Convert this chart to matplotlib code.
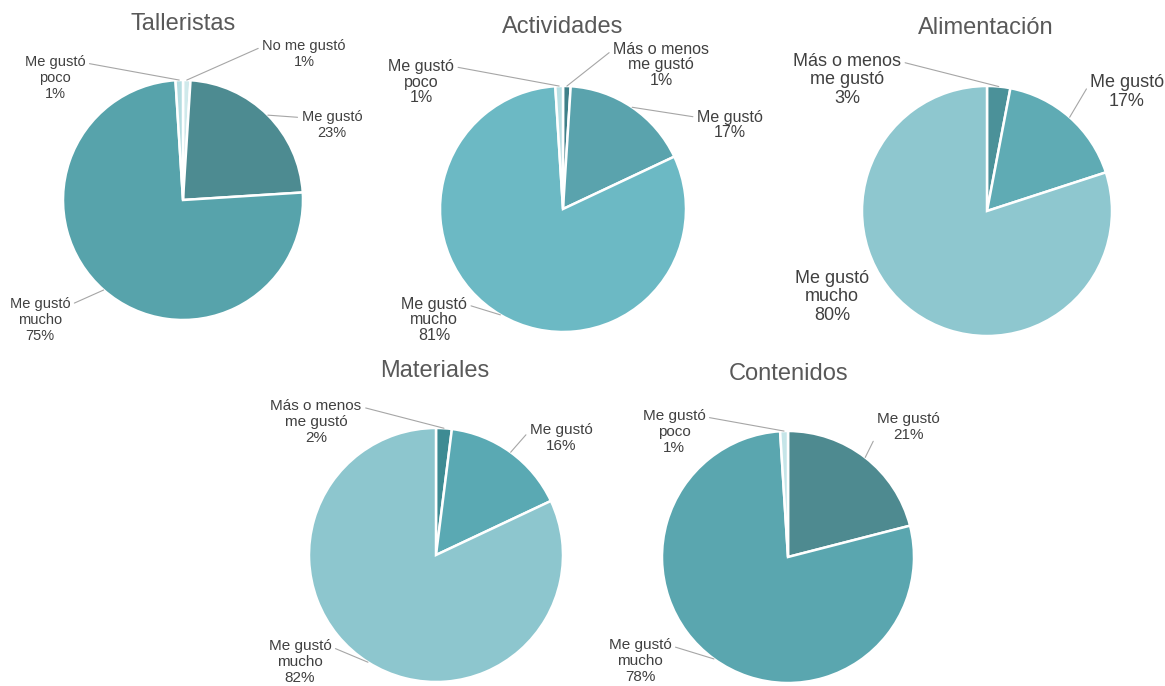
import numpy as np
import matplotlib
matplotlib.use("Agg")
import matplotlib.pyplot as plt

plt.rcParams['font.family'] = ['Liberation Sans', 'DejaVu Sans']

W, H = 1165, 686

# data: slices go clockwise from 12 o'clock
titles = ["Talleristas", "Actividades", "Alimentación", "Materiales", "Contenidos"]

talleristas_labels = ["No me gustó", "Me gustó", "Me gustó\nmucho", "Me gustó\npoco"]
talleristas_values = [1, 23, 75, 1]

actividades_labels = ["Más o menos\nme gustó", "Me gustó", "Me gustó\nmucho", "Me gustó\npoco"]
actividades_values = [1, 17, 81, 1]

alimentacion_labels = ["Más o menos\nme gustó", "Me gustó", "Me gustó\nmucho"]
alimentacion_values = [3, 17, 80]

materiales_labels = ["Más o menos\nme gustó", "Me gustó", "Me gustó\nmucho"]
materiales_values = [2, 16, 82]

contenidos_labels = ["Me gustó", "Me gustó\nmucho", "Me gustó\npoco"]
contenidos_values = [21, 78, 1]

all_labels = [talleristas_labels, actividades_labels, alimentacion_labels,
              materiales_labels, contenidos_labels]
all_values = [talleristas_values, actividades_values, alimentacion_values,
              materiales_values, contenidos_values]

colors = [
    ["#cfe9eb", "#4d8b91", "#57a3ab", "#b5dde1"],
    ["#3f8089", "#5aa3ad", "#6cb9c4", "#b9e0e4"],
    ["#4b9199", "#5fabb4", "#8ec7cf"],
    ["#3e8b93", "#5aa9b3", "#8dc6ce"],
    ["#4e8a90", "#5aa6af", "#c5e5e8"],
]

# layout in pixels: centre x, centre y, radius, title position, label font size
pies = [
    dict(cx=183, cy=200, r=120, title=(183, 24), fs=10.5, ls=1.15),
    dict(cx=563, cy=209, r=123, title=(563, 27), fs=11.5, ls=1.05),
    dict(cx=987, cy=211, r=125, title=(986, 28), fs=13, ls=1.15),
    dict(cx=436, cy=555, r=127, title=(435, 371), fs=11, ls=1.15),
    dict(cx=788, cy=557, r=126, title=(789, 374), fs=11, ls=1.15),
]

# label text centre in pixels (same order as slices)
label_pos = [
    [(304, 54), (332, 125), (40, 320), (55, 78)],
    [(661, 65), (730, 125), (434, 320), (421, 82)],
    [(847, 80), (1127, 92), (832, 297)],
    [(316, 422), (561, 438), (300, 662)],
    [(908, 427), (640, 661), (674, 432)],
]

# where the leader leaves the text: side ('L' = right end, 'R' = left end), line index
# None = no leader
leader = [
    [("R", 0), ("R", 0), ("L", 0), ("L", 0)],
    [("R", 0), ("R", 0), ("L", 0), ("L", 0)],
    [("L", 0), ("R", 0), None],
    [("L", 0), ("R", 0), ("L", 0)],
    [("R", 1), ("L", 0), ("L", 0)],
]


def fx(x):
    return x / W


def fy(y):
    return 1 - y / H


fig = plt.figure(figsize=(W / 100, H / 100), dpi=100)
fig.patch.set_facecolor("white")

for i in range(5):
    p = pies[i]
    r = p["r"]
    ax = fig.add_axes([fx(p["cx"] - r), fy(p["cy"] + r), 2 * r / W, 2 * r / H])
    wedges, _ = ax.pie(all_values[i], colors=colors[i], startangle=90,
                       counterclock=False, radius=1,
                       wedgeprops=dict(edgecolor="white", linewidth=1.8))
    ax.set_xlim(-1, 1)
    ax.set_ylim(-1, 1)
    ax.set_aspect("equal")
    ax.axis("off")

    fig.text(fx(p["title"][0]), fy(p["title"][1]), titles[i], ha="center",
             va="center", fontsize=17, color="#595959")

    for j, w in enumerate(wedges):
        ang = np.deg2rad((w.theta1 + w.theta2) / 2)
        x, y = np.cos(ang), np.sin(ang)
        tx, ty = label_pos[i][j]
        txt = all_labels[i][j] + "\n" + str(all_values[i][j]) + "%"
        n = txt.count("\n") + 1
        ld = leader[i][j]
        if ld is None:
            ax.text(fx(tx), fy(ty), txt, transform=fig.transFigure,
                    ha="center", va="center", fontsize=p["fs"],
                    color="#404040", linespacing=p["ls"])
            continue
        side, line = ld
        rel = (1.0 if side == "L" else 0.0, 1 - (line + 0.5) / n)
        ax.annotate(txt, xy=(x, y), xycoords="data",
                    xytext=(fx(tx), fy(ty)), textcoords="figure fraction",
                    ha="center", va="center", fontsize=p["fs"], color="#404040",
                    linespacing=p["ls"], annotation_clip=False,
                    arrowprops=dict(arrowstyle="-", color="#a6a6a6", lw=0.8,
                                    relpos=rel, shrinkA=1, shrinkB=0))

fig.savefig("out.png", dpi=100, facecolor="white")
